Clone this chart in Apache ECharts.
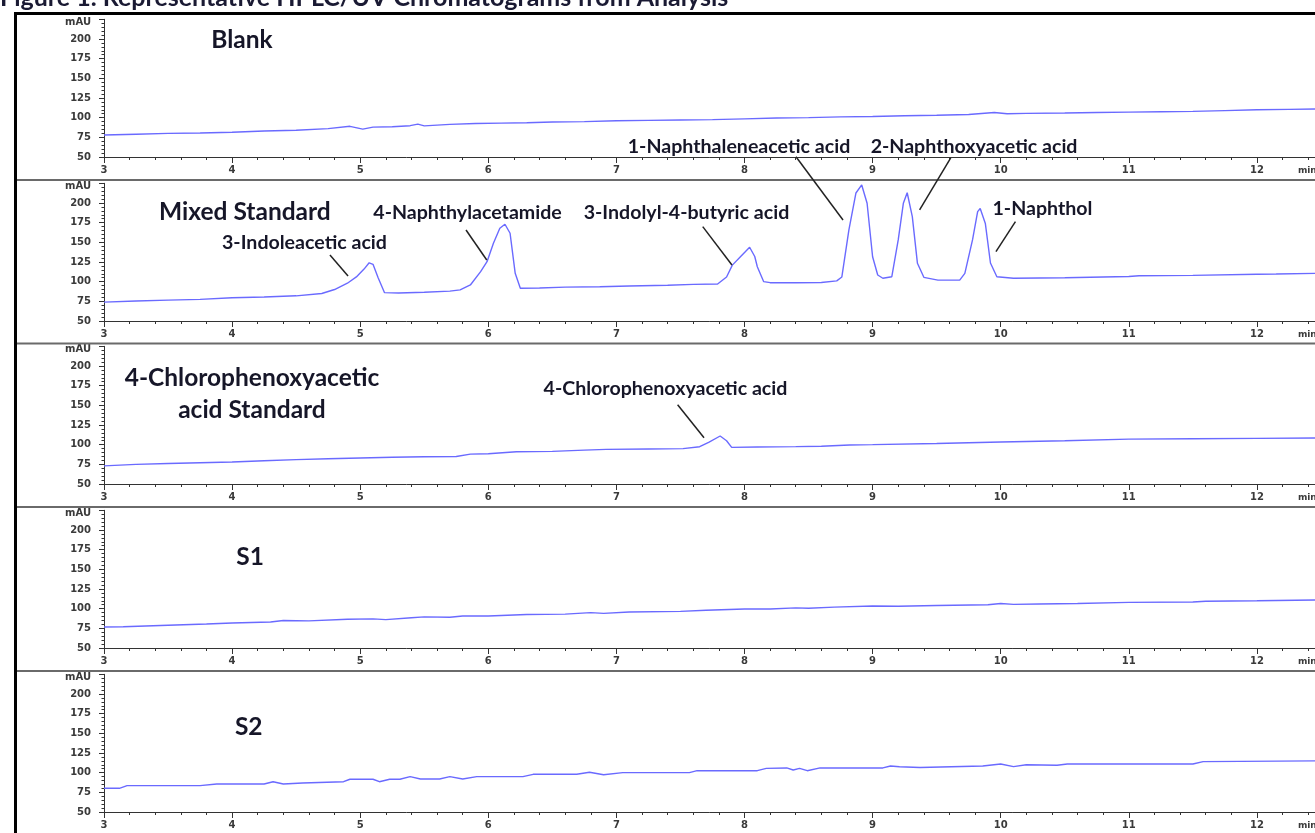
<!DOCTYPE html>
<html><head><meta charset="utf-8">
<script src="https://cdn.jsdelivr.net/npm/echarts@6/dist/echarts.min.js"></script>
<style>html,body{margin:0;padding:0;background:#fff;overflow:hidden}#c{width:1315px;height:833px}</style>
</head><body><div id="c"></div>
<script>
// ---------------- DATA ----------------
const figureTitle = 'Figure 1. Representative HPLC/UV Chromatograms from Analysis';
const panelNames = ['Blank', 'Mixed Standard', '4-Chlorophenoxyacetic\nacid Standard', 'S1', 'S2'];
const xUnit = 'min';
const yUnit = 'mAU';

const blankT = [3.0,3.25,3.5,3.75,4.0,4.25,4.5,4.75,4.92,5.02,5.1,5.25,5.39,5.45,5.5,5.7,5.9,6.1,6.3,6.5,6.75,7.0,7.25,7.5,7.75,8.0,8.25,8.5,8.75,9.0,9.25,9.5,9.75,9.95,10.05,10.2,10.5,10.75,11.0,11.25,11.5,11.75,12.0,12.25,12.46];
const blankV = [78,79,80,80.5,81.5,83,84,86,89,85.5,88,88.5,89.8,91.8,89.5,91.5,92.5,93,93.5,94.5,95,96,96.5,97,97.5,98.5,99.5,100,101,101.5,102.5,103,104,106.5,105,105.5,106,106.5,107,107.5,108,109,110,110.5,111];

const mixT = [3.0,3.25,3.5,3.75,4.0,4.25,4.5,4.7,4.8,4.9,4.97,5.03,5.07,5.1,5.14,5.19,5.3,5.5,5.7,5.78,5.86,5.94,5.99,6.04,6.09,6.13,6.17,6.21,6.25,6.4,6.6,6.87,7.1,7.4,7.6,7.79,7.86,7.905,7.97,8.04,8.08,8.1,8.15,8.2,8.4,8.6,8.72,8.76,8.815,8.87,8.915,8.957,9.0,9.04,9.08,9.15,9.2,9.24,9.27,9.31,9.35,9.4,9.51,9.68,9.72,9.78,9.82,9.84,9.88,9.92,9.97,10.1,10.5,11.0,11.08,11.5,12.0,12.15,12.46];
const mixV = [74,75.5,76.5,77.5,79.5,80.5,82,85,90,98,106,116,124,122,105,86,85.5,86.5,88,89.5,95.8,112.7,125.4,148.8,167.8,173,161.5,110.6,91.6,92,93,93.6,94.5,95.5,96.5,97,106,121,132,143.7,132,119,100,98.7,98.7,99,101,106,165.7,212.7,222.9,199.6,131.7,108.5,104.3,106.3,153,199.6,213,182.6,123.3,105.5,102,102,110.6,153,189,193,174,123.7,106.3,104.3,105,106.5,107.6,108,109.5,109.7,110.6];

const cpaT = [3.0,3.25,3.5,3.75,4.0,4.25,4.5,4.75,5.0,5.25,5.5,5.75,5.86,6.0,6.22,6.5,6.75,6.92,7.25,7.52,7.65,7.72,7.81,7.86,7.9,8.1,8.4,8.6,8.82,9.0,9.5,10.0,10.5,11.0,11.5,12.0,12.46];
const cpaV = [73,75,76,77,78,79.5,81,82,83,84,84.7,85,88,88.5,91,91.5,93,94,94.5,94.9,97.4,103,111,105,96.6,97,97.5,98,99.6,100,101.5,103.4,105,107,107.5,108,108.5];

const s1T = [3.0,3.15,3.5,3.8,4.0,4.3,4.4,4.6,4.9,5.1,5.2,5.4,5.5,5.7,5.8,6.0,6.3,6.6,6.8,6.9,7.1,7.5,7.7,8.0,8.2,8.4,8.5,8.7,9.0,9.2,9.5,9.9,10.0,10.1,10.3,10.6,11.0,11.5,11.6,12.0,12.46];
const s1V = [76.7,77,79,80.5,81.8,83,85,84.5,86.5,87,86,88.5,89.5,89,90.7,90.7,92.5,93,95,94,95.8,96.5,98,99.6,99.6,101,100.5,102,103.4,103,104,105,106.5,105.5,106,106.5,108,108.5,109.5,110,111];

const s2T = [3.0,3.12,3.18,3.75,3.88,4.25,4.32,4.4,4.55,4.87,4.92,5.1,5.15,5.23,5.31,5.39,5.47,5.62,5.7,5.8,5.91,6.27,6.35,6.69,6.79,6.9,7.05,7.57,7.63,8.1,8.17,8.33,8.38,8.43,8.49,8.59,9.08,9.14,9.21,9.37,9.86,10.0,10.1,10.2,10.44,10.52,11.5,11.58,12.46];
const s2V = [80.1,80.1,83.5,83.5,85.6,85.6,88.5,85.6,86.9,88.5,91.6,91.6,88.5,91.6,91.6,94.9,92,92,94.9,92,95,95,97.9,97.9,100.5,97.4,100,100,102.5,102.5,105.5,106,103.4,105.5,102.5,106,106,108.5,107.6,106.5,108.5,111,107.6,110,109.5,111,111,114,115];

const peakNames = ['3-Indoleacetic acid','4-Naphthylacetamide','3-Indolyl-4-butyric acid','1-Naphthaleneacetic acid','2-Naphthoxyacetic acid','1-Naphthol','4-Chlorophenoxyacetic acid'];

const traces = [[blankT, blankV], [mixT, mixV], [cpaT, cpaV], [s1T, s1V], [s2T, s2V]];

// ---------------- LAYOUT ----------------
const panelBottoms = [157, 321, 484, 648, 812];
const Y_MIN = 50, Y_MAX = 225, PX_PER_UNIT = 19.67 / 25;
const gridH = (Y_MAX - Y_MIN) * PX_PER_UNIT;
// label anchor positions in each panel's data space (t, mAU)
const panelLabelAt = [[4.077,198.7],[4.10,188.5],[4.155,164.4],[4.14,165.7],[4.13,158]];
// [panel, peakName index, text t, text v, line t1, v1, t2, v2]
const annoLayout = [
  [1,0,4.565,149.1,4.764,133.9,4.905,107.2],
  [1,1,5.838,187.3,5.826,165.7,5.988,127.5],
  [1,2,7.547,187.3,7.674,169.9,7.902,121.2],
  [1,3,7.957,271.2,8.402,258.8,8.769,178.4],
  [1,4,9.792,271.2,9.61,257.2,9.367,191.1],
  [1,5,10.326,192.4,10.115,176.2,9.963,138.1],
  [2,6,7.383,170.7,7.478,150.7,7.684,108.8]
];
const separatorsY = [180, 343.5, 507, 671];

const AXIS_COLOR = '#333';
const LABEL_FONT = 'DejaVu Sans';
const TEXT_FONT = 'Lato';
const TICK_LABEL_COLOR = '#3a3a3a';

const chart = echarts.init(document.getElementById('c'));

const grid = [], xAxis = [], yAxis = [], series = [];
panelBottoms.forEach((b, i) => {
  grid.push({left: 104, right: -70, top: b - gridH, height: gridH, containLabel: false, outerBoundsMode: 'none'});
  xAxis.push({
    type: 'value', gridIndex: i, min: 3, max: 13, interval: 1,
    axisLine: {show: true, onZero: false, lineStyle: {color: AXIS_COLOR, width: 1}},
    axisTick: {show: true, length: 6, lineStyle: {color: AXIS_COLOR}},
    minorTick: {show: true, splitNumber: 5, length: 3, lineStyle: {color: AXIS_COLOR}},
    axisLabel: {margin: 8, fontSize: 10, color: TICK_LABEL_COLOR, fontFamily: LABEL_FONT, fontWeight: 'bold',
      formatter: v => (v <= 12 ? String(v) : '')},
    splitLine: {show: false}
  });
  yAxis.push({
    type: 'value', gridIndex: i, min: Y_MIN, max: Y_MAX, interval: 25,
    axisLine: {show: true, lineStyle: {color: AXIS_COLOR, width: 1}},
    axisTick: {show: true, length: 5, lineStyle: {color: AXIS_COLOR}},
    minorTick: {show: true, splitNumber: 5, length: 2.5, lineStyle: {color: AXIS_COLOR}},
    axisLabel: {margin: 13, fontSize: 10, color: TICK_LABEL_COLOR, fontFamily: LABEL_FONT, fontWeight: 'bold',
      formatter: v => (v === Y_MAX ? '{u|' + yUnit + '}' : String(v)),
      rich: {u: {fontSize: 10, fontFamily: LABEL_FONT, color: TICK_LABEL_COLOR, fontWeight: 'bold', padding: [6, 0, 0, 0]}}},
    splitLine: {show: false}
  });
  const [T, V] = traces[i];
  series.push({
    type: 'line', xAxisIndex: i, yAxisIndex: i, showSymbol: false, symbol: 'none',
    clip: false, animation: false,
    lineStyle: {color: '#6a6aff', width: 1.4},
    data: T.map((t, k) => [t, V[k]])
  });
});

chart.setOption({backgroundColor: '#fff', animation: false, grid, xAxis, yAxis, series});

const px = (p, t, v) => chart.convertToPixel({gridIndex: p}, [t, v]);
const graphics = [];
// title (cut off at top)
graphics.push({type: 'text', z: 10, style: {text: figureTitle, x: 0, y: 10, fill: '#1a1a33',
  fontFamily: TEXT_FONT, fontSize: 25, fontWeight: 'bold', align: 'left', verticalAlign: 'bottom'}});
// frame
graphics.push({type: 'line', z: 10, shape: {x1: 14, y1: 13.5, x2: 1315, y2: 13.5}, style: {stroke: '#000', lineWidth: 3}});
graphics.push({type: 'line', z: 10, shape: {x1: 15.5, y1: 12, x2: 15.5, y2: 833}, style: {stroke: '#000', lineWidth: 3}});
separatorsY.forEach(y => graphics.push({type: 'line', z: 10, shape: {x1: 17, y1: y, x2: 1315, y2: y}, style: {stroke: '#6a6a6a', lineWidth: 2}}));
// panel names
panelNames.forEach((name, i) => {
  const [x, y] = px(i, panelLabelAt[i][0], panelLabelAt[i][1]);
  graphics.push({type: 'text', z: 10, style: {text: name, x, y, fill: '#161628', fontFamily: TEXT_FONT,
    fontSize: 24.5, fontWeight: 'bold', align: 'center', verticalAlign: 'middle', lineHeight: 32}});
});
// "min" unit labels
panelBottoms.forEach((b, i) => {
  const [x, y] = px(i, 12.32, Y_MIN);
  graphics.push({type: 'text', z: 10, style: {text: xUnit, x, y: y + 14, fill: TICK_LABEL_COLOR, fontFamily: LABEL_FONT,
    fontSize: 9, fontWeight: 'bold', align: 'left', verticalAlign: 'middle'}});
});
// peak annotations
annoLayout.forEach(a => {
  const [p, ni, tx, tv, t1, v1, t2, v2] = a;
  const [x, y] = px(p, tx, tv);
  graphics.push({type: 'text', z: 10, style: {text: peakNames[ni], x, y, fill: '#161628', fontFamily: TEXT_FONT,
    fontSize: 19.6, fontWeight: 'bold', align: 'center', verticalAlign: 'middle'}});
  const [x1, y1] = px(p, t1, v1);
  const [x2, y2] = px(p, t2, v2);
  graphics.push({type: 'line', z: 10, shape: {x1, y1, x2, y2}, style: {stroke: '#222', lineWidth: 1.5}});
});
chart.setOption({graphic: graphics});
</script></body></html>
